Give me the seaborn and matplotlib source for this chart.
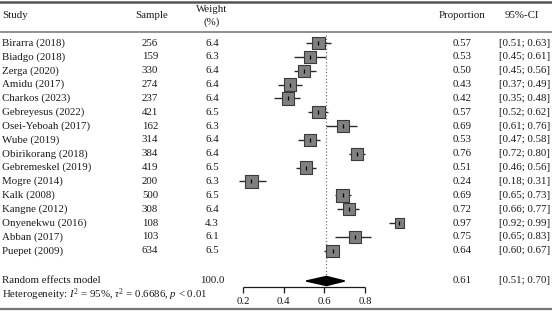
import numpy as np
import pandas as pd
import seaborn as sns
from matplotlib import pyplot as plt

studies = ["Birarra (2018)", "Biadgo (2018)", "Zerga (2020)", "Amidu (2017)", "Charkos (2023)",
           "Gebreyesus (2022)", "Osei-Yeboah (2017)", "Wube (2019)", "Obirikorang (2018)",
           "Gebremeskel (2019)", "Mogre (2014)", "Kalk (2008)", "Kangne (2012)",
           "Onyenekwu (2016)", "Abban (2017)", "Puepet (2009)"]
sample = [256, 159, 330, 274, 237, 421, 162, 314, 384, 419, 200, 500, 308, 108, 103, 634]
weight = [6.4, 6.3, 6.4, 6.4, 6.4, 6.5, 6.3, 6.4, 6.4, 6.5, 6.3, 6.5, 6.4, 4.3, 6.1, 6.5]
prop = [0.57, 0.53, 0.50, 0.43, 0.42, 0.57, 0.69, 0.53, 0.76, 0.51, 0.24, 0.69, 0.72, 0.97, 0.75, 0.64]
lower = [0.51, 0.45, 0.45, 0.37, 0.35, 0.52, 0.61, 0.47, 0.72, 0.46, 0.18, 0.65, 0.66, 0.92, 0.65, 0.60]
upper = [0.63, 0.61, 0.56, 0.49, 0.48, 0.62, 0.76, 0.58, 0.80, 0.56, 0.31, 0.73, 0.77, 0.99, 0.83, 0.67]
pooled, pooled_lo, pooled_hi = 0.61, 0.51, 0.70
ticks = [0.2, 0.4, 0.6, 0.8]

W, H = 552, 311
ROW0, STEP = 43, 13.85  # pixel y of first row, row spacing


def row(px):
    return (px - ROW0) / STEP


df = pd.DataFrame({"study": studies, "sample": sample, "weight": weight,
                   "prop": prop, "lower": lower, "upper": upper})
df["y"] = np.arange(len(df))

sns.set_style("white")
plt.rcParams["font.family"] = ["Liberation Serif", "DejaVu Serif"]
plt.rcParams["mathtext.fontset"] = "custom"
plt.rcParams["mathtext.rm"] = "Liberation Serif"
plt.rcParams["mathtext.it"] = "Liberation Serif:italic"

fig = plt.figure(figsize=(W / 100, H / 100), dpi=100)
ax = fig.add_axes([0, 0, 1, 1])
ppu = (365 - 243.3) / 0.6  # pixels per unit on the forest scale
x0 = 0.2 - 243.3 / ppu
ax.set_xlim(x0, x0 + W / ppu)
ax.set_ylim(row(H), row(0))
ax.axis("off")

fs = 7.8
ink = "#1a1a1a"
tx = ax.get_yaxis_transform()

# rules
ax.axhline(row(2), color="#555555", lw=1.8)
ax.axhline(row(31.5), color="#888888", lw=1.3)
ax.axhline(row(309), color="#777777", lw=1.6)

# header
ax.text(2 / W, row(15), "Study", transform=tx, fontsize=fs, va="center", color=ink)
ax.text(152 / W, row(15), "Sample", transform=tx, fontsize=fs, va="center", ha="center", color=ink)
ax.text(212 / W, row(9), "Weight", transform=tx, fontsize=fs, va="center", ha="center", color=ink)
ax.text(212 / W, row(22), "(%)", transform=tx, fontsize=fs, va="center", ha="center", color=ink)
ax.text(462 / W, row(15), "Proportion", transform=tx, fontsize=fs, va="center", ha="center", color=ink)
ax.text(505 / W, row(15), "95%-CI", transform=tx, fontsize=fs, va="center", color=ink)

# table columns
for _, r in df.iterrows():
    ax.text(2 / W, r.y, r.study, transform=tx, fontsize=fs, va="center", color=ink)
    ax.text(150 / W, r.y, f"{r['sample']}", transform=tx, fontsize=fs, va="center", ha="center", color=ink)
    ax.text(212 / W, r.y, f"{r.weight:.1f}", transform=tx, fontsize=fs, va="center", ha="center", color=ink)
    ax.text(462 / W, r.y, f"{r.prop:.2f}", transform=tx, fontsize=fs, va="center", ha="center", color=ink)
    ax.text(550 / W, r.y, f"[{r.lower:.2f}; {r.upper:.2f}]", transform=tx, fontsize=fs,
            va="center", ha="right", color=ink)

ry = row(281)
ax.text(2 / W, ry, "Random effects model", transform=tx, fontsize=fs, va="center", color=ink)
ax.text(212 / W, ry, "100.0", transform=tx, fontsize=fs, va="center", ha="center", color=ink)
ax.text(462 / W, ry, f"{pooled:.2f}", transform=tx, fontsize=fs, va="center", ha="center", color=ink)
ax.text(550 / W, ry, f"[{pooled_lo:.2f}; {pooled_hi:.2f}]", transform=tx, fontsize=fs,
        va="center", ha="right", color=ink)
ax.text(2 / W, row(295), r"Heterogeneity: $I^2$ = 95%, $\tau^2$ = 0.6686, $p$ < 0.01",
        transform=tx, fontsize=fs, va="center", color=ink)

# reference line at pooled estimate
ax.vlines(pooled, row(35), ry - 0.3, color="#777777", lw=0.9, ls=":")

# confidence intervals and boxes
ax.hlines(df.y, df.lower, df.upper, color="#2a2a2a", lw=1.0, zorder=2)
sns.scatterplot(data=df, x="prop", y="y", size="weight", sizes=(50, 80), size_norm=(4.3, 6.5),
                marker="s", color="#808080", edgecolor="#3a3a3a", linewidth=0.8,
                legend=False, ax=ax, zorder=3)
sns.scatterplot(data=df, x="prop", y="y", marker="|", s=10, color="black", linewidth=0.9,
                legend=False, ax=ax, zorder=4)

# pooled diamond
ax.fill([pooled_lo, pooled, pooled_hi, pooled], [ry, ry - 0.33, ry, ry + 0.33],
        color="black", zorder=3)

# x axis
ay = row(287)
ax.hlines(ay, ticks[0], ticks[-1], color=ink, lw=0.9)
ax.vlines(ticks, ay, row(293), color=ink, lw=0.9)
for t in ticks:
    ax.text(t, row(302), f"{t:.1f}", fontsize=fs, ha="center", va="center", color=ink)

fig.savefig("out.png", dpi=100)
